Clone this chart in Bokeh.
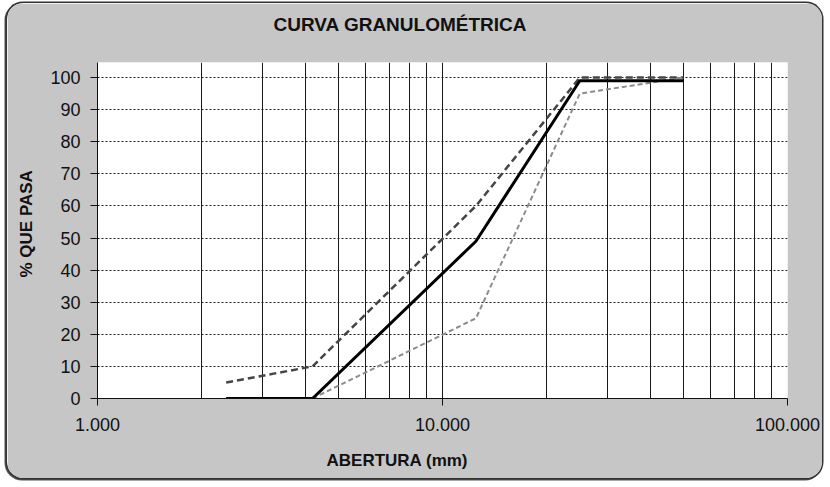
from bokeh.plotting import figure
from bokeh.models import FixedTicker, Range1d, Title
from bokeh.embed import file_html
from bokeh.resources import INLINE

# ---- data ----
abertura_muestra = [2.36, 4.2, 12.5, 25.0, 50.0]
pasa_muestra = [0, 0, 49, 99, 99]
abertura_sup = [2.36, 4.2, 12.5, 25.0, 50.0]
pasa_sup = [5, 10, 60, 100, 100]
abertura_inf = [4.2, 12.5, 25.0, 50.0]
pasa_inf = [0, 25, 95, 100]

x_ticks = [1, 10, 100]
x_tick_labels = ["1.000", "10.000", "100.000"]
x_grid_lines = [2, 3, 4, 5, 6, 7, 8, 9, 10, 20, 30, 40, 50, 60, 70, 80, 90, 100]
y_ticks = [0, 10, 20, 30, 40, 50, 60, 70, 80, 90, 100]

title_text = "CURVA GRANULOMÉTRICA"
x_label_text = "ABERTURA (mm)"
y_label_text = "% QUE PASA"

FONT = "Liberation Sans"
BG = "#c6c6c6"
INK = "#111111"

p = figure(width=815, height=475, x_axis_type="log",
           x_range=Range1d(1, 100), y_range=Range1d(0, 104.7),
           output_backend="svg", toolbar_location=None,
           min_border_left=90, min_border_right=35,
           min_border_top=59, min_border_bottom=80)
p.border_fill_color = BG
p.background_fill_color = "white"
p.outline_line_color = None
p.styles = {"margin": "3px 0 0 7px", "border-radius": "16px", "overflow": "hidden",
            "box-shadow": "0 0 0 1.5px #333, -1px 1px 0 1.5px #555"}

# title
p.title.text = title_text
p.title.align = "left"
p.title.offset = 176
p.title.vertical_align = "bottom"
p.title.standoff = 0
p.title.padding = dict(left=0, right=0, top=0, bottom=28)
p.title.text_font = FONT
p.title.text_font_size = "19px"
p.title.text_font_style = "bold"
p.title.text_color = INK

# x axis
p.xaxis.ticker = FixedTicker(ticks=x_ticks)
p.xaxis.major_label_overrides = {t: l for t, l in zip(x_ticks, x_tick_labels)}
p.xaxis.minor_tick_line_color = None
p.xaxis.major_tick_in = 0
p.xaxis.major_tick_out = 7
p.xaxis.major_label_standoff = 12
p.xaxis.major_label_text_font = FONT
p.xaxis.major_label_text_font_size = "18px"
p.xaxis.major_label_text_color = INK
p.xaxis.axis_line_color = INK
p.xaxis.major_tick_line_color = INK

# y axis
p.yaxis.ticker = FixedTicker(ticks=y_ticks)
p.yaxis.minor_tick_line_color = None
p.yaxis.major_tick_in = 0
p.yaxis.major_tick_out = 7
p.yaxis.major_label_standoff = 10
p.yaxis.major_label_text_font = FONT
p.yaxis.major_label_text_font_size = "18px"
p.yaxis.major_label_text_color = INK
p.yaxis.axis_line_color = INK
p.yaxis.major_tick_line_color = INK

# grids
p.xgrid.ticker = FixedTicker(ticks=x_grid_lines)
p.xgrid.grid_line_color = "#1a1a1a"
p.xgrid.grid_line_width = 1
p.ygrid.ticker = FixedTicker(ticks=y_ticks)
p.ygrid.grid_line_color = "#1a1a1a"
p.ygrid.grid_line_dash = "2 2"
p.ygrid.grid_line_width = 1

# axis titles
p.add_layout(Title(text=x_label_text, align="left", offset=229, vertical_align="top",
                   standoff=0, padding=dict(left=0, right=0, top=17, bottom=0),
                   text_font=FONT, text_font_size="17px",
                   text_font_style="bold", text_color=INK), "below")
p.add_layout(Title(text=y_label_text, align="left", offset=121, vertical_align="bottom",
                   standoff=0, padding=dict(left=0, right=0, top=0, bottom=12),
                   text_font=FONT, text_font_size="17px",
                   text_font_style="bold", text_color=INK), "left")

# series
p.line(abertura_sup, pasa_sup, line_color="#454545", line_width=2.5, line_dash="7 4")
p.line(abertura_inf, pasa_inf, line_color="#8c8c8c", line_width=2, line_dash="5 3")
p.line(abertura_muestra, pasa_muestra, line_color="#000000", line_width=3)

open("out.html", "w").write(file_html(p, INLINE))
